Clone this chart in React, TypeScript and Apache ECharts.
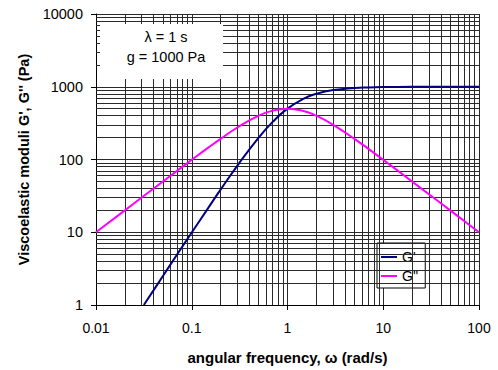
import React, { useEffect, useRef } from "react";
import * as echarts from "echarts";

const omegaStorage = [0.0316, 0.04, 0.05, 0.07, 0.1, 0.15, 0.2, 0.3, 0.5, 0.7, 1, 1.5, 2, 3, 5, 7, 10, 20, 50, 100];
const storageModulus = [1.0, 1.6, 2.5, 4.9, 9.9, 22.0, 38.5, 82.6, 200, 329, 500, 692, 800, 900, 962, 980, 990, 997.5, 999.6, 999.9];

const omegaLoss = [0.01, 0.02, 0.03, 0.05, 0.07, 0.1, 0.15, 0.2, 0.3, 0.5, 0.7, 1, 1.5, 2, 3, 5, 7, 10, 20, 30, 50, 70, 100];
const lossModulus = [10.0, 20.0, 30.0, 49.9, 69.7, 99.0, 146.7, 192.3, 275.2, 400, 469.8, 500, 461.5, 400, 300, 192.3, 140, 99.0, 49.9, 33.3, 20.0, 14.3, 10.0];

const xMinorGrid = [0.02, 0.03, 0.04, 0.05, 0.06, 0.07, 0.08, 0.09, 0.2, 0.3, 0.4, 0.5, 0.6, 0.7, 0.8, 0.9, 2, 3, 4, 5, 6, 7, 8, 9, 20, 30, 40, 50, 60, 70, 80, 90];
const yMinorGrid = [2, 3, 4, 5, 6, 7, 8, 9, 20, 30, 40, 50, 60, 70, 80, 90, 200, 300, 400, 500, 600, 700, 800, 900, 2000, 3000, 4000, 5000, 6000, 7000, 8000, 9000];

const FONT = 'Arial, "Liberation Sans", sans-serif';
const GRID_COLOR = "#2a2a2a";

const fmt = (v: number) => String(Number(Number(v).toPrecision(6)));

export default function App() {
  const ref = useRef<HTMLDivElement>(null);
  useEffect(() => {
    if (!ref.current) return;
    const chart = echarts.init(ref.current, undefined, { renderer: "svg" });
    const markData: any[] = [
      ...xMinorGrid.map((v) => ({ xAxis: v })),
      ...yMinorGrid.map((v) => ({ yAxis: v })),
    ];
    chart.setOption({
      animation: false,
      backgroundColor: "#ffffff",
      textStyle: { fontFamily: FONT },
      grid: { left: 96, right: 19, top: 14, bottom: 61, containLabel: false },
      xAxis: {
        type: "log",
        logBase: 10,
        min: 0.01,
        max: 100,
        name: "angular frequency, \u03c9 (rad/s)",
        nameLocation: "middle",
        nameGap: 45,
        nameTextStyle: { fontSize: 15, fontWeight: "bold", color: "#000", fontFamily: FONT },
        axisLine: { show: true, onZero: false, lineStyle: { color: "#000", width: 1 } },
        axisTick: { show: true, length: 5, inside: false, lineStyle: { color: "#000" } },
        axisLabel: { color: "#000", fontSize: 14, margin: 16, fontFamily: FONT, formatter: fmt },
        splitLine: { show: true, lineStyle: { color: GRID_COLOR, width: 1 } },
      },
      yAxis: {
        type: "log",
        logBase: 10,
        min: 1,
        max: 10000,
        name: "Viscoelastic moduli G', G'' (Pa)",
        nameLocation: "middle",
        nameGap: 62,
        nameTextStyle: { fontSize: 14.5, fontWeight: "bold", color: "#000", fontFamily: FONT },
        axisLine: { show: true, onZero: false, lineStyle: { color: "#000", width: 1 } },
        axisTick: { show: true, length: 5, inside: false, lineStyle: { color: "#000" } },
        axisLabel: { color: "#000", fontSize: 14.5, margin: 13, fontFamily: FONT, formatter: fmt },
        splitLine: { show: true, lineStyle: { color: GRID_COLOR, width: 1 } },
      },
      legend: {
        show: true,
        orient: "vertical",
        left: 377,
        top: 243,
        backgroundColor: "#fff",
        borderColor: "#000",
        borderWidth: 1,
        borderRadius: 0,
        padding: [7, 7, 5, 4],
        itemGap: 5,
        itemWidth: 16,
        itemHeight: 2,
        icon: "rect",
        textStyle: { color: "#000", fontSize: 14, fontFamily: FONT },
        data: ["G'", "G''"],
      },
      series: [
        {
          name: "grid",
          type: "line",
          data: [],
          z: 1,
          silent: true,
          markLine: {
            silent: true,
            symbol: ["none", "none"],
            label: { show: false },
            lineStyle: { color: GRID_COLOR, width: 1, type: "solid" },
            emphasis: { disabled: true },
            data: markData,
          },
        },
        {
          name: "G'",
          type: "line",
          z: 5,
          smooth: true,
          showSymbol: false,
          symbol: "none",
          color: "#000080",
          lineStyle: { color: "#000080", width: 2 },
          data: omegaStorage.map((w, i) => [w, storageModulus[i]]),
        },
        {
          name: "G''",
          type: "line",
          z: 5,
          smooth: true,
          showSymbol: false,
          symbol: "none",
          color: "#ff00ff",
          lineStyle: { color: "#ff00ff", width: 2 },
          data: omegaLoss.map((w, i) => [w, lossModulus[i]]),
        },
      ],
      graphic: [
        {
          type: "group",
          z: 100,
          children: [
            {
              type: "rect",
              shape: { x: 100, y: 24, width: 123, height: 55 },
              style: { fill: "#fff", stroke: null },
              z: 100,
            },
            {
              type: "text",
              x: 166,
              y: 37,
              z: 101,
              style: { text: "\u03bb = 1 s", fontSize: 14.5, fontFamily: FONT, fill: "#000", textAlign: "center", textVerticalAlign: "middle" },
            },
            {
              type: "text",
              x: 166,
              y: 57,
              z: 101,
              style: { text: "g = 1000 Pa", fontSize: 14.5, fontFamily: FONT, fill: "#000", textAlign: "center", textVerticalAlign: "middle" },
            },
          ],
        },
      ],
    });
    return () => chart.dispose();
  }, []);
  return <div ref={ref} style={{ position: "fixed", left: 0, top: 0, width: 498, height: 370 }} />;
}
